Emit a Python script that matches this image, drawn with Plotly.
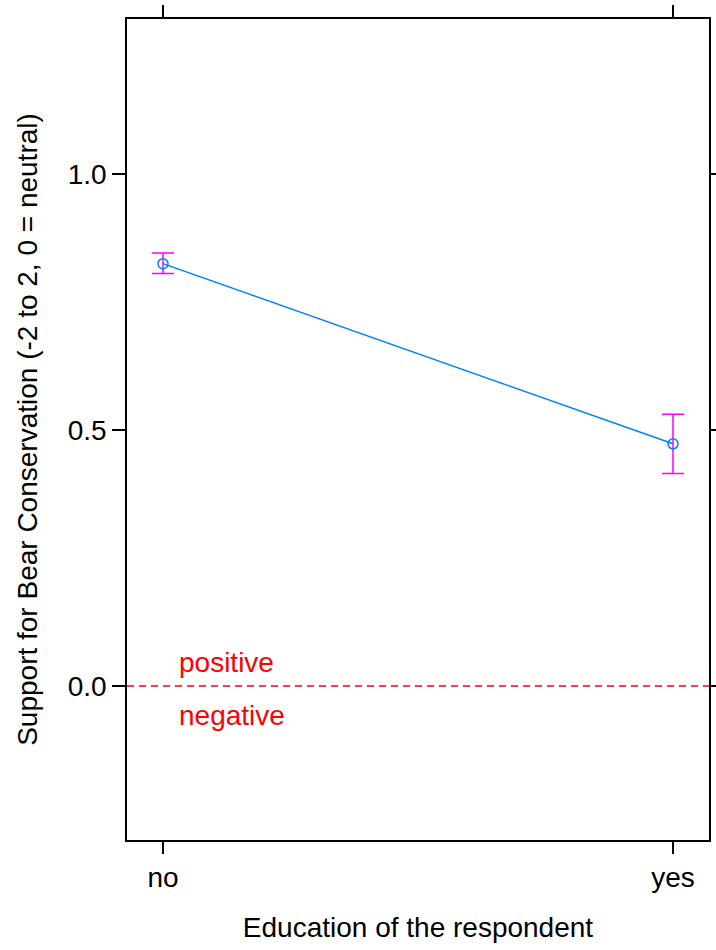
import plotly.graph_objects as go

categories = ["no", "yes"]
estimate = [0.825, 0.473]
upper = [0.846, 0.531]
lower = [0.806, 0.415]
y_ticks = [0.0, 0.5, 1.0]
y_ticklabels = ["0.0", "0.5", "1.0"]

FONT = "Liberation Sans, Arial, sans-serif"
FS = 28
BLUE = "#0080FF"
MAGENTA = "#FF00FF"

fig = go.Figure()
fig.add_trace(go.Scatter(
    x=categories, y=estimate, mode="lines+markers",
    line=dict(color=BLUE, width=1.5),
    marker=dict(symbol="circle-open", size=10, color=BLUE, line=dict(width=1.5)),
    error_y=dict(type="data", symmetric=False,
                 array=[u - e for u, e in zip(upper, estimate)],
                 arrayminus=[e - l for e, l in zip(estimate, lower)],
                 color=MAGENTA, thickness=1.5, width=11),
    showlegend=False, cliponaxis=False,
))

fig.add_shape(type="line", xref="paper", yref="y", x0=0, x1=1, y0=0, y1=0,
              line=dict(color="red", width=1.5, dash="7px,5px"))

fig.add_annotation(x=0.028, y=0.045, xref="x", yref="y", text="positive",
                   showarrow=False, xanchor="left", yanchor="middle",
                   font=dict(family=FONT, size=FS, color="red"))
fig.add_annotation(x=0.028, y=-0.057, xref="x", yref="y", text="negative",
                   showarrow=False, xanchor="left", yanchor="middle",
                   font=dict(family=FONT, size=FS, color="red"))

fig.update_layout(
    width=716, height=950,
    margin=dict(l=127, r=7, t=19, b=110, autoexpand=False),
    paper_bgcolor="white", plot_bgcolor="white",
    font=dict(family=FONT, size=FS, color="black"),
)
fig.update_xaxes(
    type="category", range=[-0.0706, 1.0706], automargin=False,
    showline=True, linecolor="black", linewidth=1.5, mirror="ticks",
    ticks="outside", ticklen=12, tickwidth=1.5, tickcolor="black",
    showgrid=False, zeroline=False,
    tickfont=dict(family=FONT, size=FS),
    title=dict(text="Education of the respondent", font=dict(family=FONT, size=FS), standoff=25),
)
fig.update_yaxes(
    range=[-0.301, 1.303], automargin=False,
    tickvals=y_ticks, ticktext=y_ticklabels,
    showline=True, linecolor="black", linewidth=1.5, mirror="ticks",
    ticks="outside", ticklen=13, tickwidth=1.5, tickcolor="black",
    showgrid=False, zeroline=False,
    tickfont=dict(family=FONT, size=FS),
    title=dict(text="Support for Bear Conservation (-2 to 2, 0 = neutral)",
               font=dict(family=FONT, size=FS), standoff=22),
)

fig.write_html("out.html")
